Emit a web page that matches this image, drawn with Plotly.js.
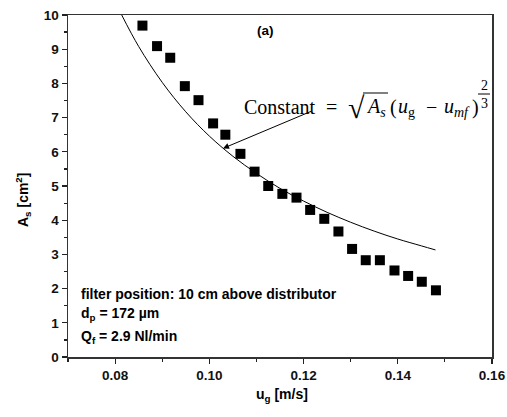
<!DOCTYPE html>
<html>
<head>
<meta charset="utf-8">
<script src="https://cdn.plot.ly/plotly-3.0.1.min.js"></script>
<style>html,body{margin:0;padding:0;background:#fff;}</style>
</head>
<body>
<div id="chart" style="width:507px;height:417px;"></div>
<script>
// measured data (u_g in m/s, A_s in cm^2)
const ug = [0.0858, 0.0889, 0.0917, 0.0948, 0.0977, 0.1008, 0.1034, 0.1066, 0.1096, 0.1125,
            0.1155, 0.1185, 0.1214, 0.1244, 0.1274, 0.1303, 0.1332, 0.1362, 0.1393, 0.1422,
            0.1451, 0.1481];
const As = [9.69, 9.09, 8.75, 7.92, 7.51, 6.83, 6.50, 5.94, 5.42, 5.00,
            4.77, 4.66, 4.30, 4.04, 3.67, 3.16, 2.83, 2.83, 2.53, 2.37,
            2.20, 1.95];
// correlation curve
const ugFit = [0.0814, 0.085, 0.090, 0.095, 0.100, 0.105, 0.110, 0.115, 0.120, 0.125,
               0.130, 0.135, 0.140, 0.145, 0.148];
const AsFit = [10.0, 9.08, 8.03, 7.17, 6.46, 5.87, 5.37, 4.93, 4.56, 4.23,
               3.94, 3.68, 3.45, 3.25, 3.13];

const L = 68, T = 15, W = 424, H = 342;
const px = x => (x - L) / W;
const py = y => (T + H - y) / H;

const sans = 'Liberation Sans, Arial, sans-serif';
const serif = 'Liberation Serif, Times New Roman, serif';

const traces = [
  {x: ugFit, y: AsFit, mode: 'lines', line: {color: '#000', width: 1, shape: 'spline'}, hoverinfo: 'skip'},
  {x: ug, y: As, mode: 'markers', marker: {symbol: 'square', size: 10, color: '#000'}}
];

const axisCommon = {
  showgrid: false, zeroline: false, showline: true, linecolor: '#333', linewidth: 1.5,
  mirror: true, ticks: 'outside', ticklen: 5, tickwidth: 1.2, tickcolor: '#222',
  tickfont: {family: sans, size: 13.5, color: '#111', weight: 'bold'}
};

function note(x, y, text, font, extra) {
  return Object.assign({xref: 'paper', yref: 'paper', x: px(x), y: py(y), text: text,
    showarrow: false, xanchor: 'center', yanchor: 'middle', font: font}, extra || {});
}
const fB = {family: sans, size: 14, color: '#000', weight: 'bold'};
const fS = {family: serif, size: 20, color: '#000'};
const fR = {family: serif, size: 30, color: '#000'};
const fF = {family: serif, size: 14, color: '#000'};
const yF = 107;

const layout = {
  width: 507, height: 417,
  margin: {l: L, r: 507 - L - W, t: T, b: 417 - T - H},
  paper_bgcolor: '#fff', plot_bgcolor: '#fff',
  showlegend: false,
  xaxis: Object.assign({}, axisCommon, {
    range: [0.07, 0.16], tick0: 0.08, dtick: 0.02, tickformat: '.2f',
    minor: {dtick: 0.01, tick0: 0.07, ticks: 'outside', ticklen: 3, tickcolor: '#222'}
  }),
  yaxis: Object.assign({}, axisCommon, {
    range: [0, 10], tick0: 0, dtick: 1,
    minor: {dtick: 0.5, tick0: 0, ticks: 'outside', ticklen: 3, tickcolor: '#222'}
  }),
  annotations: [
    note(265, 30, '(a)', {family: sans, size: 13.5, color: '#000', weight: 'bold'}),
    note(79, 294, 'filter position: 10 cm above distributor', fB, {xanchor: 'left'}),
    note(79, 314, 'd<sub>p</sub> = 172 µm', fB, {xanchor: 'left'}),
    note(79, 337, 'Q<sub>f</sub> = 2.9 Nl/min', fB, {xanchor: 'left'}),
    note(282, 395, 'u<sub>g</sub> [m/s]', fB),
    note(23, 200, 'A<sub>s</sub> [cm<sup>2</sup>]', fB, {textangle: -90}),
    // formula, piece by piece
    note(242, yF, 'Constant', fS, {xanchor: 'left'}),
    note(331, yF, '=', fS),
    note(356, yF + 1, '√', fR),
    note(364, yF, '<i>A</i><sub><i>s</i></sub>', fS, {xanchor: 'left'}),
    note(388, yF, '(', fS, {xanchor: 'left'}),
    note(396, yF, '<i>u</i><sub>g</sub>', fS, {xanchor: 'left'}),
    note(431, yF, '−', fS),
    note(442, yF, '<i>u</i><sub><i>mf</i></sub>', fS, {xanchor: 'left'}),
    note(470, yF, ')', fS, {xanchor: 'left'}),
    note(484, 85, '2', fF),
    note(484, 104, '3', fF),
    {xref: 'x', yref: 'y', axref: 'x', ayref: 'y', x: 0.1029, y: 6.10, ax: 0.1219, ay: 7.20,
     text: '', showarrow: true, arrowhead: 2, arrowsize: 1.2, arrowwidth: 1, arrowcolor: '#000', standoff: 0}
  ],
  shapes: [
    {type: 'line', xref: 'paper', yref: 'paper', x0: px(363), x1: px(388), y0: py(93), y1: py(93),
     line: {color: '#000', width: 1}},
    {type: 'line', xref: 'paper', yref: 'paper', x0: px(478), x1: px(490), y0: py(94), y1: py(94),
     line: {color: '#000', width: 1}}
  ]
};

Plotly.newPlot('chart', traces, layout, {displayModeBar: false, staticPlot: true});
</script>
</body>
</html>
